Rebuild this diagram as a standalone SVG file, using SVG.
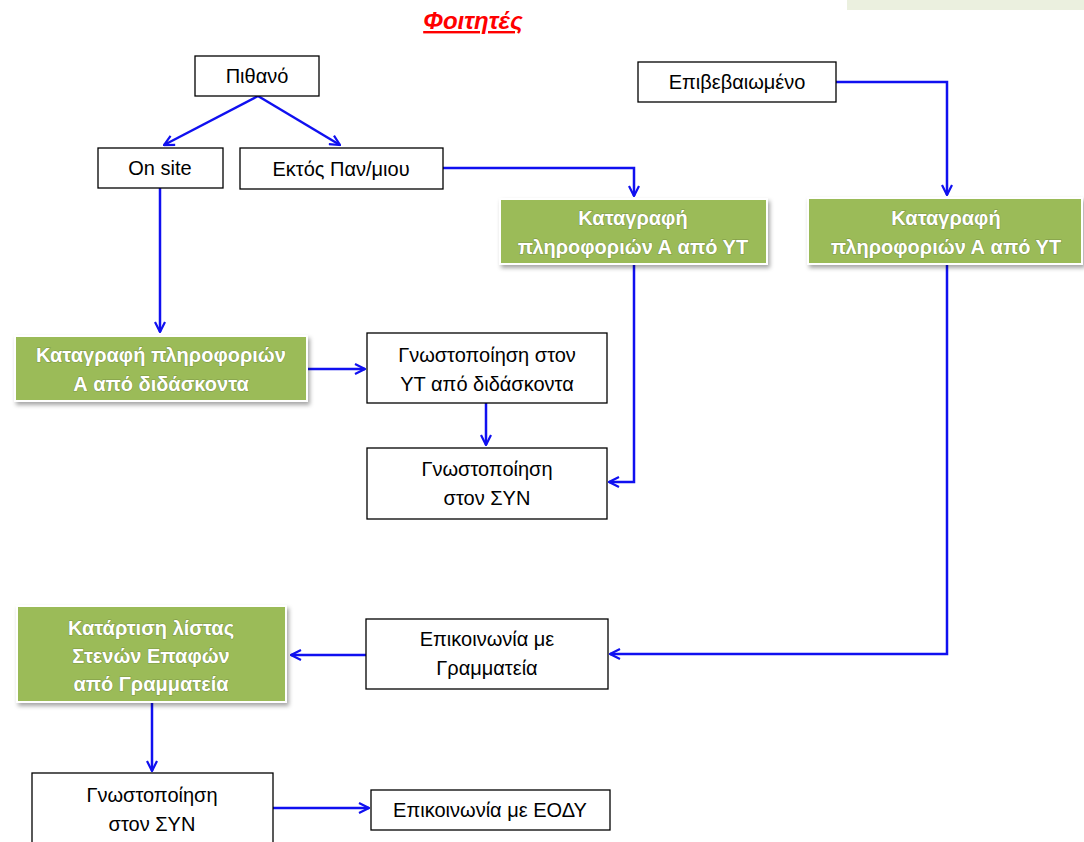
<svg xmlns="http://www.w3.org/2000/svg" width="1084" height="842" viewBox="0 0 1084 842">
<style>
.box{fill:#fff;stroke:#000;stroke-width:1.3}
.g{fill:#9BBB59;stroke:#fff;stroke-width:2}
.t{font-family:"Liberation Sans",Arial,sans-serif;font-size:20px;fill:#000;text-anchor:middle}
.w{font-family:"Liberation Sans",Arial,sans-serif;font-size:20px;font-weight:bold;fill:#fff;text-anchor:middle;stroke:#5a6b30;stroke-width:1.2;stroke-opacity:0.45;paint-order:stroke}
.c{fill:none;stroke:#1010F0;stroke-width:2.5;marker-end:url(#a)}
</style>
<defs>
<marker id="a" viewBox="0 0 12 12" refX="11" refY="6" markerWidth="12" markerHeight="12" markerUnits="userSpaceOnUse" orient="auto">
<path d="M1,1 L11,6 L1,11" fill="none" stroke="#1010F0" stroke-width="2.2"/>
</marker>
<filter id="sh" x="-10%" y="-10%" width="130%" height="140%">
<feDropShadow dx="2" dy="3" stdDeviation="2" flood-color="#000" flood-opacity="0.35"/>
</filter>
</defs>
<rect x="847" y="0" width="237" height="10" fill="#EBF0DF"/>
<text x="473" y="29" font-family="Liberation Sans,Arial,sans-serif" font-size="24" font-weight="bold" font-style="italic" fill="#FF0000" text-anchor="middle" text-decoration="underline">Φοιτητές</text>

<g id="connectors">
<path class="c" d="M258,96 L164,145"/>
<path class="c" d="M258,96 L340,145"/>
<path class="c" d="M160,188 L160,332"/>
<path class="c" d="M443,168 L634,168 L634,196"/>
<path class="c" d="M836,82 L947,82 L947,195"/>
<path class="c" d="M307,369 L365,369"/>
<path class="c" d="M486,403 L486,445"/>
<path class="c" d="M634,263 L634,482 L609,482"/>
<path class="c" d="M947,263 L947,654 L610,654"/>
<path class="c" d="M366,655 L291,655"/>
<path class="c" d="M152,702 L152,771"/>
<path class="c" d="M273,808 L369,808"/>
</g>

<g id="n1"><rect class="box" x="195" y="56" width="124" height="40"/><text class="t" x="257" y="83">Πιθανό</text></g>
<g id="n2"><rect class="box" x="98" y="148" width="125" height="40"/><text class="t" x="160" y="175">On site</text></g>
<g id="n3"><rect class="box" x="240" y="148" width="203" height="41"/><text class="t" x="341" y="176">Εκτός Παν/μιου</text></g>
<g id="n4"><rect class="box" x="638" y="62" width="198" height="40"/><text class="t" x="737" y="89">Επιβεβαιωμένο</text></g>
<g id="n5"><rect class="g" filter="url(#sh)" x="500" y="199" width="267" height="65"/><text class="w" x="633" y="225">Καταγραφή</text><text class="w" x="633" y="254">πληροφοριών Α από ΥΤ</text></g>
<g id="n6"><rect class="g" filter="url(#sh)" x="808" y="198" width="274" height="66"/><text class="w" x="946" y="225">Καταγραφή</text><text class="w" x="946" y="254">πληροφοριών Α από ΥΤ</text></g>
<g id="n7"><rect class="g" filter="url(#sh)" x="15" y="336" width="292" height="65"/><text class="w" x="161" y="362">Καταγραφή πληροφοριών</text><text class="w" x="161" y="391">Α από διδάσκοντα</text></g>
<g id="n8"><rect class="box" x="367" y="333" width="240" height="70"/><text class="t" x="487" y="362">Γνωστοποίηση στον</text><text class="t" x="487" y="391">ΥΤ από διδάσκοντα</text></g>
<g id="n9"><rect class="box" x="367" y="448" width="240" height="71"/><text class="t" x="487" y="476">Γνωστοποίηση</text><text class="t" x="487" y="505">στον ΣΥΝ</text></g>
<g id="n10"><rect class="box" x="366" y="619" width="242" height="70"/><text class="t" x="487" y="646">Επικοινωνία με</text><text class="t" x="487" y="675">Γραμματεία</text></g>
<g id="n11"><rect class="g" filter="url(#sh)" x="17" y="606" width="269" height="96"/><text class="w" x="151" y="635">Κατάρτιση λίστας</text><text class="w" x="151" y="663">Στενών Επαφών</text><text class="w" x="151" y="691">από Γραμματεία</text></g>
<g id="n12"><rect class="box" x="32" y="773" width="241" height="80"/><text class="t" x="152" y="802">Γνωστοποίηση</text><text class="t" x="152" y="831">στον ΣΥΝ</text></g>
<g id="n13"><rect class="box" x="371" y="790" width="239" height="40"/><text class="t" x="490" y="817">Επικοινωνία με ΕΟΔΥ</text></g>
</svg>
